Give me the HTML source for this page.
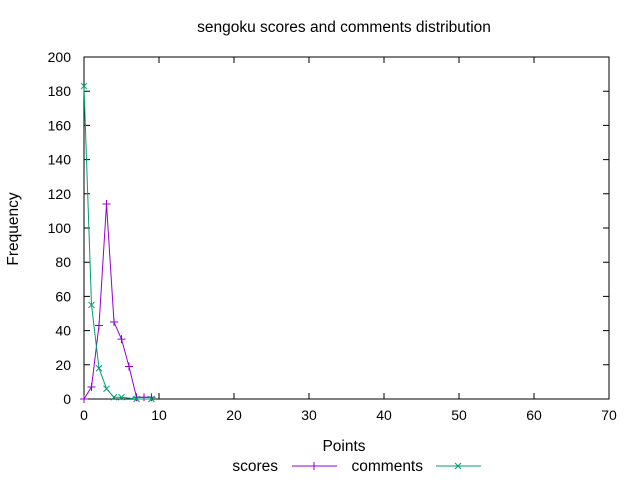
<!DOCTYPE html>
<html><head><meta charset="utf-8"><style>
body{margin:0;background:#fff}
svg text{font-family:"Liberation Sans",sans-serif;font-size:14px;fill:#000}
svg text.big{font-size:15.5px}
</style></head><body>
<svg id="chart" width="640" height="480" xmlns="http://www.w3.org/2000/svg">
<rect width="640" height="480" fill="#fff"/>
<text class="big" x="344" y="32" text-anchor="middle">sengoku scores and comments distribution</text>
<text class="big" transform="translate(18,229) rotate(-90)" text-anchor="middle">Frequency</text>
<text class="big" x="344" y="451" text-anchor="middle">Points</text>
<g id="axes"></g>
<g id="series"></g>
<g>
<text class="big" x="278" y="471" text-anchor="end">scores</text>
<line x1="292" y1="466" x2="337" y2="466" stroke="#9400d3"/>
<path d="M310 466h8M314 462v8" stroke="#9400d3"/>
<text class="big" x="423" y="471" text-anchor="end">comments</text>
<line x1="436" y1="466" x2="481" y2="466" stroke="#009e73"/>
<path d="M455 463l6 6M455 469l6-6" stroke="#009e73"/>
</g>
</svg>
<script>
const xTicks=[0,10,20,30,40,50,60,70];
const yTicks=[0,20,40,60,80,100,120,140,160,180,200];
const pointsX=[0,1,2,3,4,5,6,7,8,9];
const scores=[0,7,43,114,45,35,19,1,1,1];
const commentsX=[0,1,2,3,4,5,7,9];
const comments=[183,55,18,6,1,1,0,0];
const L=84,R=609,T=57,B=399;
const sx=v=>L+(v-0)/(70)*(R-L);
const sy=v=>B-(v/200)*(B-T);
const NS="http://www.w3.org/2000/svg";
function mk(t,a,p){const e=document.createElementNS(NS,t);for(const k in a)e.setAttribute(k,a[k]);p.appendChild(e);return e;}
const ax=document.getElementById('axes');
const frame=mk('rect',{x:L,y:T,width:R-L,height:B-T,fill:'none',stroke:'#000'},ax);


xTicks.forEach(v=>{const x=sx(v);
mk('path',{d:`M${x} ${B}v-6M${x} ${T}v6`,stroke:'#000'},ax);
const t=mk('text',{x:x,y:B+21,'text-anchor':'middle'},ax);t.textContent=v;

});
yTicks.forEach(v=>{const y=sy(v);
mk('path',{d:`M${L} ${y}h6M${R} ${y}h-6`,stroke:'#000'},ax);
const t=mk('text',{x:L-13,y:y+5,'text-anchor':'end'},ax);t.textContent=v;

});
const sg=document.getElementById('series');
const p1=mk('polyline',{points:pointsX.map((x,i)=>sx(x)+','+sy(scores[i])).join(' '),fill:'none',stroke:'#9400d3'},sg);


pointsX.forEach((x,i)=>{const X=sx(x),Y=sy(scores[i]);
const m=mk('path',{d:`M${X-4} ${Y}h8M${X} ${Y-4}v8`,stroke:'#9400d3'},sg);

});
const p2=mk('polyline',{points:commentsX.map((x,i)=>sx(x)+','+sy(comments[i])).join(' '),fill:'none',stroke:'#009e73'},sg);


commentsX.forEach((x,i)=>{const X=sx(x),Y=sy(comments[i]);
const m=mk('path',{d:`M${X-3} ${Y-3}l6 6M${X-3} ${Y+3}l6-6`,stroke:'#009e73'},sg);

});
</script>
</body></html>
